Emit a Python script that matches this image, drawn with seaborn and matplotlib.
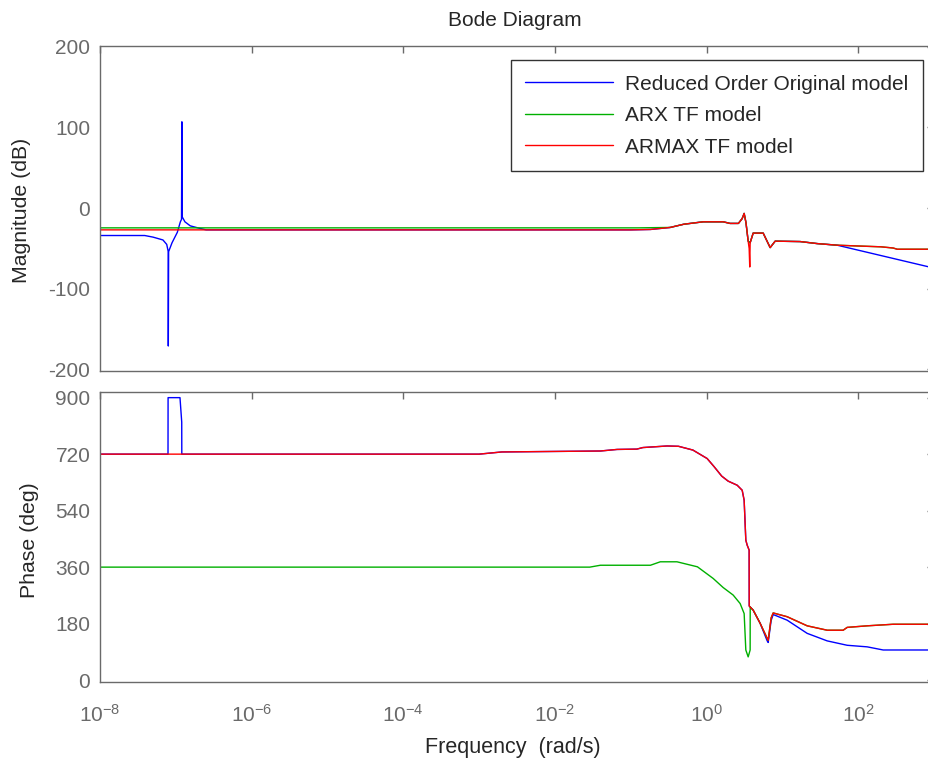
import numpy as np
import pandas as pd
import matplotlib
matplotlib.use("Agg")
import matplotlib.pyplot as plt
import seaborn as sns

# ---------------- data (log10 of frequency in rad/s) ----------------
orig_mag_lw = [-8.0, -7.41, -7.3, -7.17, -7.12, -7.10, -7.099, -7.095, -7.05, -6.98, -6.94,
               -6.925, -6.92, -6.915, -6.88, -6.81, -6.69, -6.6, -1.0, -0.74, -0.48, -0.3,
               -0.045, 0.22, 0.31, 0.42, 0.47, 0.496, 0.52, 0.549, 0.575, 0.615, 0.747,
               0.839, 0.905, 1.235, 1.459, 1.723, 3.0]
orig_mag_db = [-34, -34, -36, -39.5, -45, -54, -171, -54, -43, -30, -17,
               -14, 107, -11, -17, -22, -25, -27, -27, -26.5, -24, -20,
               -17, -17, -19, -19, -13, -6.6, -18, -41, -43, -31, -31,
               -49, -41, -41.5, -44, -46, -74.4]

arx_mag_lw = [-8.0, -0.9, -0.74, -0.48, -0.3, -0.045, 0.22, 0.31, 0.42, 0.47, 0.496, 0.52,
              0.549, 0.575, 0.615, 0.747, 0.839, 0.905, 1.235, 1.459, 1.723, 2.0, 2.3,
              2.46, 2.515, 3.0]
arx_mag_db = [-24.5, -24.5, -24.3, -24, -20, -17, -17, -19, -19, -13, -6.6, -18,
              -41, -43, -31, -31, -49, -41, -41.5, -44, -46, -47, -48,
              -49.5, -51, -51]

armax_mag_lw = [-8.0, -1.0, -0.74, -0.48, -0.3, -0.045, 0.22, 0.31, 0.42, 0.47, 0.496, 0.52,
                0.549, 0.562, 0.570, 0.575, 0.615, 0.747, 0.839, 0.905, 1.235, 1.459,
                1.723, 2.0, 2.3, 2.462, 2.515, 3.0]
armax_mag_db = [-27, -27, -26.5, -24, -20, -17, -17, -19, -19, -13, -6.6, -18,
                -41, -50, -73, -43, -31, -31, -49, -41, -41.5, -44,
                -46, -47, -48, -49.5, -51, -51]

orig_ph_lw = [-8.0, -7.103, -7.102, -6.945, -6.922, -6.921, -3.0, -2.7, -1.4, -1.18, -0.92,
              -0.84, -0.52, -0.37, -0.18, 0.008, 0.1, 0.2, 0.285, 0.404, 0.47, 0.496,
              0.518, 0.536, 0.562, 0.563, 0.615, 0.707, 0.80, 0.813, 0.852, 0.879,
              1.063, 1.327, 1.591, 1.855, 2.119, 2.33, 3.0]
orig_ph_deg = [720, 720, 900, 900, 822, 720, 720, 727, 730, 735, 736,
               741, 746, 745, 733, 706, 680, 650, 634, 621, 605, 573,
               446, 430, 414, 236, 223, 181, 125, 120, 190, 209,
               191, 149, 125, 111, 106, 96, 96]

arx_ph_lw = [-8.0, -1.54, -1.40, -0.74, -0.61, -0.39, -0.12, 0.087, 0.219, 0.351, 0.443,
             0.496, 0.518, 0.549, 0.575, 0.576, 0.615, 0.707, 0.80, 0.813, 0.852, 0.879,
             1.063, 1.327, 1.591, 1.802, 1.855, 2.119, 2.462, 3.0]
arx_ph_deg = [360, 360, 366, 366, 377, 377, 361, 324, 295, 271, 244,
              212, 96, 74, 96, 233, 223, 181, 133, 127, 198, 214,
              202, 173, 159, 159, 168, 173, 178, 178]

armax_ph_lw = [-8.0, -3.0, -2.7, -1.4, -1.18, -0.92, -0.84, -0.52, -0.37, -0.18, 0.008,
               0.1, 0.2, 0.285, 0.404, 0.47, 0.496, 0.518, 0.536, 0.562, 0.563, 0.615,
               0.707, 0.80, 0.813, 0.852, 0.879, 1.063, 1.327, 1.591, 1.802, 1.855,
               2.119, 2.462, 3.0]
armax_ph_deg = [720, 720, 727, 730, 735, 736, 741, 746, 745, 733, 706,
                680, 650, 634, 621, 605, 573, 446, 430, 414, 236, 223,
                181, 133, 127, 198, 214, 202, 173, 159, 159, 168,
                173, 178, 178]

series_names = ["Reduced Order Original model", "ARX TF model", "ARMAX TF model"]
series_colors = ["#0000ff", "#00b000", "#ff0000"]

mag_lw = [orig_mag_lw, arx_mag_lw, armax_mag_lw]
mag_db = [orig_mag_db, arx_mag_db, armax_mag_db]
ph_lw = [orig_ph_lw, arx_ph_lw, armax_ph_lw]
ph_deg = [orig_ph_deg, arx_ph_deg, armax_ph_deg]

mag_ticks = [-200, -100, 0, 100, 200]
ph_ticks = [0, 180, 360, 540, 720, 900]
freq_ticks = [1e-8, 1e-6, 1e-4, 1e-2, 1e0, 1e2]

def build(lws, vals):
    frames = []
    for name, lw, v in zip(series_names, lws, vals):
        frames.append(pd.DataFrame({"w": np.power(10.0, np.array(lw, dtype=float)),
                                    "v": v, "model": name}))
    return pd.concat(frames, ignore_index=True)

mag_df = build(mag_lw, mag_db)
ph_df = build(ph_lw, ph_deg)

# ---------------- style ----------------
sns.set_style("white")
plt.rcParams["font.family"] = ["Liberation Sans", "DejaVu Sans"]
plt.rcParams["mathtext.default"] = "regular"
plt.rcParams["axes.unicode_minus"] = False

grey = "#6a6a6a"
FS = 15
W, H = 929, 762
fig = plt.figure(figsize=(W / 100, H / 100), dpi=100)

left = 100 / W
width = (934 - 100) / W
ax1 = fig.add_axes([left, 1 - 371 / H, width, (371 - 46) / H])
ax2 = fig.add_axes([left, 1 - 682 / H, width, (682 - 392) / H])

palette = dict(zip(series_names, series_colors))
for ax, df in ((ax1, mag_df), (ax2, ph_df)):
    sns.lineplot(data=df, x="w", y="v", hue="model", hue_order=series_names,
                 palette=palette, estimator=None, sort=False, linewidth=1.0,
                 ax=ax, legend=(ax is ax1))
    ax.set_xscale("log")
    ax.set_xlim(1e-8, 1e3)
    ax.set_xticks(freq_ticks)
    ax.minorticks_off()
    ax.set_xlabel("")
    ax.set_ylabel("")
    for s in ax.spines.values():
        s.set_color(grey)
        s.set_linewidth(1.0)
    ax.tick_params(direction="in", length=5, width=1, colors=grey, labelcolor=grey,
                   labelsize=FS, top=True, right=True, pad=7)

ax1.set_ylim(-202, 201)
ax1.set_yticks(mag_ticks)
ax1.set_xticklabels([])
ax2.set_ylim(-6, 918)
ax2.set_yticks(ph_ticks)
ax2.set_xticklabels([r"$10^{%d}$" % int(round(np.log10(t))) for t in freq_ticks])
ax2.tick_params(axis="x", pad=16)

leg = ax1.legend(loc="upper right",
                 bbox_to_anchor=((923 - 100) / (934 - 100), (371 - 60) / (371 - 46)),
                 frameon=True, fancybox=False, fontsize=FS, handlelength=4.2,
                 borderpad=0.7, labelspacing=0.6, handletextpad=0.6, borderaxespad=0)
leg.get_frame().set_edgecolor("black")
leg.get_frame().set_linewidth(1.0)
for l in leg.get_lines():
    l.set_linewidth(1.0)

fig.text(515 / W, 1 - 20 / H, "Bode Diagram", ha="center", va="center", fontsize=FS)
fig.text(22 / W, 1 - 210 / H, "Magnitude (dB)", rotation=90, ha="center", va="center", fontsize=15.3)
fig.text(30 / W, 1 - 540 / H, "Phase (deg)", rotation=90, ha="center", va="center", fontsize=15.3)
fig.text(513 / W, 1 - 748 / H, "Frequency  (rad/s)", ha="center", va="center", fontsize=15.5)

fig.savefig("out.png", dpi=100)
